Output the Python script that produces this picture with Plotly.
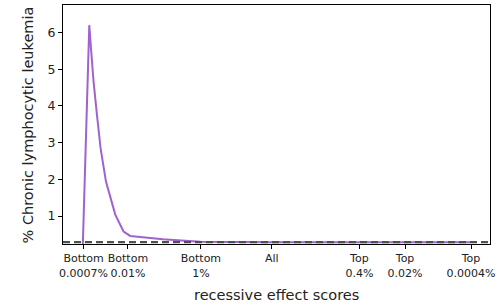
import plotly.graph_objects as go

# x positions on the (transformed) score axis
score_pos = [1.96, 2.63, 2.80, 3.06, 3.40, 3.76, 4.30, 5.23, 6.06, 6.73, 10.0, 13.73, 20.9, 29.7, 34.2, 40.8]
pct_cll = [0.0, 6.2, 5.57, 4.66, 3.75, 2.85, 1.94, 1.04, 0.58, 0.46, 0.37, 0.30, 0.29, 0.29, 0.29, 0.29]

baseline = 0.29

tick_pos = [2.06, 6.5, 13.8, 20.9, 29.66, 34.23, 40.83]
tick_labels = ["Bottom<br>0.0007%", "Bottom<br>0.01%", "Bottom<br>1%", "All",
               "Top<br>0.4%", "Top<br>0.02%", "Top<br>0.0004%"]

fig = go.Figure()
fig.add_trace(go.Scatter(x=score_pos, y=pct_cll, mode="lines",
                         line=dict(color="#a062cc", width=2), showlegend=False))
fig.add_hline(y=baseline, line=dict(color="#505050", width=2.2, dash="7px,4px"))

fig.update_layout(
    width=498, height=307,
    margin=dict(l=63, r=8, t=5, b=63),
    paper_bgcolor="white", plot_bgcolor="white",
    font=dict(family="DejaVu Sans", color="#222222"),
    annotations=[
        dict(text="recessive effect scores", xref="paper", yref="paper",
             x=0.5, y=-0.213, yanchor="middle", xanchor="center", showarrow=False,
             font=dict(size=14.5)),
        dict(text="% Chronic lymphocytic leukemia", xref="paper", yref="paper",
             x=-0.082, y=0.5, xanchor="center", yanchor="middle", textangle=-90,
             showarrow=False, font=dict(size=14.5)),
    ],
)
fig.update_xaxes(range=[0, 42.73], tickvals=tick_pos, ticktext=tick_labels, tickangle=0,
                 tickfont=dict(size=11), ticks="outside", ticklen=4, tickcolor="black",
                 showline=True, linecolor="black", linewidth=1, mirror=True,
                 showgrid=False, zeroline=False, automargin=False)
fig.update_yaxes(range=[0.24, 6.75], tickvals=[1, 2, 3, 4, 5, 6],
                 tickfont=dict(size=12.5), ticks="outside", ticklen=4, tickcolor="black",
                 showline=True, linecolor="black", linewidth=1, mirror=True,
                 showgrid=False, zeroline=False, automargin=False)

fig.write_html("out.html", config={"displayModeBar": False},
               post_script="document.body.style.margin='0';")
